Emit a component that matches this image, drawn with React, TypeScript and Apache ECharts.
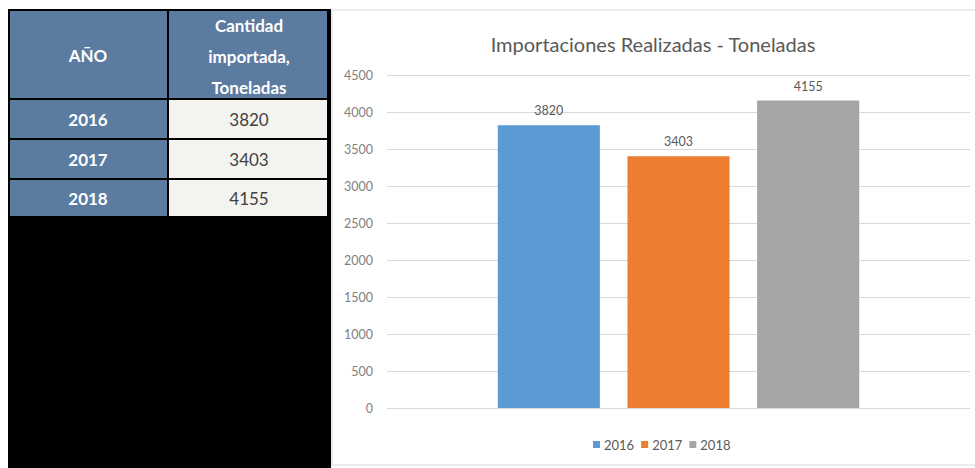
import React, { useEffect, useRef } from "react";
import * as echarts from "echarts";

const years = ["2016", "2017", "2018"];
const values = [3820, 3403, 4155];
const colors = ["#5B9BD5", "#ED7D31", "#A5A5A5"];
const headerYear = "AÑO";
const headerQty = "Cantidad\nimportada,\nToneladas";
const chartTitle = "Importaciones Realizadas - Toneladas";
const yMin = 0;
const yMax = 4500;
const yStep = 500;

export default function App() {
  const ref = useRef<HTMLDivElement>(null);
  useEffect(() => {
    document.body.style.margin = "0";
    const chart = echarts.init(ref.current!, null, { renderer: "svg" });
    const font = "Lato, 'Open Sans', sans-serif";
    const rowTops = [100, 140, 180];
    const rowHeights = [38, 38, 36];
    const tableEls: any[] = [
      { type: "rect", shape: { x: 8, y: 9, width: 323, height: 459 }, style: { fill: "#000000" } },
      { type: "rect", shape: { x: 10, y: 11, width: 157, height: 87 }, style: { fill: "#5B7BA1" } },
      { type: "rect", shape: { x: 169, y: 11, width: 158, height: 87 }, style: { fill: "#5B7BA1" } },
      {
        type: "text",
        x: 88,
        y: 55,
        style: { text: headerYear, fill: "#ffffff", font: `bold 17px ${font}`, textAlign: "center", textVerticalAlign: "middle" },
      },
      {
        type: "text",
        x: 249,
        y: 56,
        style: {
          text: headerQty,
          fill: "#ffffff",
          font: `bold 17px ${font}`,
          lineHeight: 31,
          textAlign: "center",
          textVerticalAlign: "middle",
        },
      },
    ];
    years.forEach((yr, i) => {
      const top = rowTops[i];
      const h = rowHeights[i];
      tableEls.push(
        { type: "rect", shape: { x: 10, y: top, width: 157, height: h }, style: { fill: "#5B7BA1" } },
        { type: "rect", shape: { x: 169, y: top, width: 158, height: h }, style: { fill: "#F3F3EF" } },
        {
          type: "text",
          x: 88,
          y: top + h / 2,
          style: { text: yr, fill: "#ffffff", font: `bold 17px ${font}`, textAlign: "center", textVerticalAlign: "middle" },
        },
        {
          type: "text",
          x: 249,
          y: top + h / 2,
          style: { text: String(values[i]), fill: "#404040", font: `17px ${font}`, textAlign: "center", textVerticalAlign: "middle" },
        }
      );
    });

    chart.setOption({
      animation: false,
      backgroundColor: "#ffffff",
      textStyle: { fontFamily: font },
      title: {
        text: chartTitle,
        left: 648,
        top: 29,
        textAlign: "center",
        textStyle: { fontFamily: font, fontSize: 20, fontWeight: "normal", color: "#595959" },
      },
      graphic: [
        {
          type: "rect",
          shape: { x: 332, y: 10, width: 650, height: 455 },
          style: { fill: "none", stroke: "#D9D9D9", lineWidth: 1 },
          z: -1,
        },
        ...tableEls,
      ],
      legend: {
        left: 588,
        top: 433,
        itemWidth: 7,
        itemHeight: 7,
        itemGap: 7,
        icon: "rect",
        textStyle: { fontFamily: font, fontSize: 13, color: "#595959", padding: [0, 0, 0, -1] },
        data: years,
      },
      grid: { left: 387, right: 5, top: 75, bottom: 60, containLabel: false },
      xAxis: {
        type: "category",
        data: [""],
        axisLine: { show: false },
        axisTick: { show: false },
        axisLabel: { show: false },
      },
      yAxis: {
        type: "value",
        min: yMin,
        max: yMax,
        interval: yStep,
        axisLine: { show: false },
        axisTick: { show: false },
        axisLabel: {
          fontFamily: font,
          fontSize: 12.5,
          color: "#7F7F7F",
          margin: 14,
          formatter: (v: number) => String(v),
        },
        splitLine: { lineStyle: { color: "#D9D9D9", width: 1 } },
      },
      series: years.map((yr, i) => ({
        name: yr,
        type: "bar",
        data: [values[i]],
        barGap: "27%",
        barCategoryGap: "38%",
        itemStyle: { color: colors[i] },
        label: {
          show: true,
          position: "top",
          distance: 8,
          fontFamily: font,
          fontSize: 12.5,
          color: "#595959",
        },
      })),
    });
    return () => chart.dispose();
  }, []);
  return <div ref={ref} style={{ position: "fixed", left: 0, top: 0, width: 975, height: 468 }} />;
}
